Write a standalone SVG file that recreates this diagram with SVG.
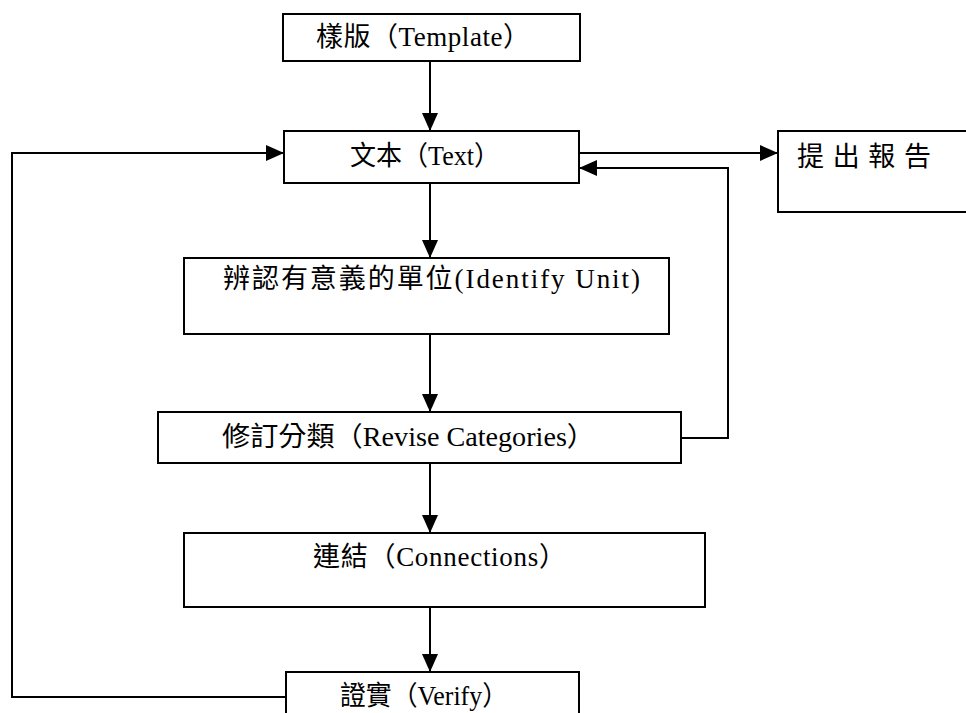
<svg xmlns="http://www.w3.org/2000/svg" width="966" height="713" viewBox="0 0 966 713">
<style>
.box{fill:#fff;stroke:#000;stroke-width:2}
.ln{fill:none;stroke:#000;stroke-width:2}
.t{font-family:'Liberation Serif','Noto Sans CJK TC',serif;font-size:27px;fill:#000}
</style>
<defs>
<marker id="ah" markerWidth="18" markerHeight="16" refX="18" refY="8" orient="auto" markerUnits="userSpaceOnUse">
<path d="M0,0 L18,8 L0,16 Z" fill="#000"/>
</marker>
</defs>
<rect width="966" height="713" fill="#fff"/>
<g id="connectors">
<path class="ln" d="M430,61 V131" marker-end="url(#ah)"/>
<path class="ln" d="M579,153 H778" marker-end="url(#ah)"/>
<path class="ln" d="M681,438 H728 V168 H579" marker-end="url(#ah)"/>
<path class="ln" d="M286,697 H12 V153 H284" marker-end="url(#ah)"/>
<path class="ln" d="M430,183 V258" marker-end="url(#ah)"/>
<path class="ln" d="M430,334 V412" marker-end="url(#ah)"/>
<path class="ln" d="M430,463 V533" marker-end="url(#ah)"/>
<path class="ln" d="M430,607 V672" marker-end="url(#ah)"/>
</g>
<g id="template">
<rect class="box" x="283" y="14" width="297" height="47"/>
<text class="t" x="316" y="46" textLength="214" lengthAdjust="spacing">樣版（Template）</text>
</g>
<g id="text">
<rect class="box" x="284" y="131" width="295" height="52"/>
<text class="t" x="350" y="165" textLength="150" lengthAdjust="spacingAndGlyphs">文本（Text）</text>
</g>
<g id="report">
<rect class="box" x="778" y="131" width="200" height="81"/>
<text class="t" x="797" y="166" textLength="134" lengthAdjust="spacing">提出報告</text>
</g>
<g id="identify">
<rect class="box" x="184" y="258" width="485" height="76"/>
<text class="t" x="223" y="288" textLength="417" lengthAdjust="spacing">辨認有意義的單位(Identify Unit)</text>
</g>
<g id="revise">
<rect class="box" x="158" y="412" width="523" height="51"/>
<text class="t" x="222" y="446" textLength="373" lengthAdjust="spacingAndGlyphs">修訂分類（Revise Categories）</text>
</g>
<g id="connections">
<rect class="box" x="184" y="533" width="521" height="74"/>
<text class="t" x="313" y="566" textLength="253" lengthAdjust="spacing">連結（Connections）</text>
</g>
<g id="verify">
<rect class="box" x="286" y="672" width="293" height="60"/>
<text class="t" x="340" y="705" textLength="168" lengthAdjust="spacingAndGlyphs">證實（Verify）</text>
</g>
</svg>
